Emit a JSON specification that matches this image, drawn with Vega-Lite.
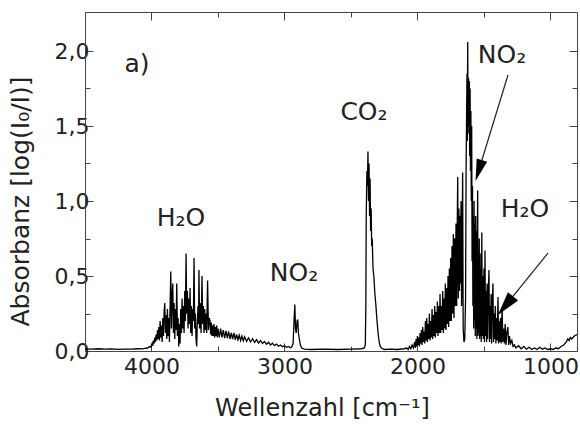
{
 "$schema": "https://vega.github.io/schema/vega-lite/v6.json",
 "width": 492, "height": 339,
 "autosize": {"type": "none"},
 "padding": {"left": 85, "top": 12, "right": 3, "bottom": 77},
 "background": "white",
 "config": {
  "view": {"stroke": null},
  "font": "DejaVu Sans",
  "axis": {"labelFont": "DejaVu Sans", "titleFont": "DejaVu Sans", "labelColor": "#222", "titleColor": "#222", "domainColor": "#444", "tickColor": "#444", "grid": false, "titleFontWeight": "normal", "labelFontSize": 22, "titleFontSize": 24}
 },
 "datasets": {
  "spectrum": [
   {"w":4500,"a":0.014},{"w":4450,"a":0.012},{"w":4400,"a":0.015},{"w":4350,"a":0.012},{"w":4300,"a":0.014},{"w":4250,"a":0.011},{"w":4200,"a":0.013},{"w":4150,"a":0.012},{"w":4100,"a":0.015},{"w":4070,"a":0.014},{"w":4050,"a":0.018},{"w":4030,"a":0.02},
   {"w":4015,"a":0.03},{"w":4005,"a":0.025},{"w":3995,"a":0.05},{"w":3990,"a":0.035},{"w":3985,"a":0.07},{"w":3980,"a":0.05},{"w":3975,"a":0.09},{"w":3970,"a":0.06},{"w":3965,"a":0.11},{"w":3960,"a":0.07},{"w":3955,"a":0.14},{"w":3950,"a":0.08},{"w":3945,"a":0.16},{"w":3940,"a":0.07},{"w":3935,"a":0.2},{"w":3930,"a":0.09},{"w":3925,"a":0.17},{"w":3920,"a":0.06},{"w":3915,"a":0.22},{"w":3910,"a":0.1},{"w":3905,"a":0.26},{"w":3900,"a":0.32},{"w":3895,"a":0.12},{"w":3890,"a":0.24},{"w":3885,"a":0.08},{"w":3880,"a":0.28},{"w":3875,"a":0.1},{"w":3870,"a":0.22},{"w":3865,"a":0.06},{"w":3860,"a":0.3},{"w":3855,"a":0.53},{"w":3850,"a":0.15},{"w":3845,"a":0.38},{"w":3840,"a":0.45},{"w":3835,"a":0.12},{"w":3830,"a":0.32},{"w":3825,"a":0.08},{"w":3820,"a":0.28},{"w":3815,"a":0.14},{"w":3810,"a":0.45},{"w":3805,"a":0.1},{"w":3800,"a":0.22},{"w":3795,"a":0.03},{"w":3790,"a":0.18},{"w":3785,"a":0.05},{"w":3780,"a":0.28},{"w":3775,"a":0.12},{"w":3770,"a":0.35},{"w":3765,"a":0.15},{"w":3760,"a":0.3},{"w":3755,"a":0.12},{"w":3750,"a":0.4},{"w":3745,"a":0.2},{"w":3740,"a":0.65},{"w":3735,"a":0.25},{"w":3730,"a":0.4},{"w":3725,"a":0.15},{"w":3720,"a":0.35},{"w":3715,"a":0.18},{"w":3710,"a":0.42},{"w":3705,"a":0.12},{"w":3700,"a":0.3},{"w":3695,"a":0.1},{"w":3690,"a":0.28},{"w":3685,"a":0.2},{"w":3680,"a":0.62},{"w":3675,"a":0.15},{"w":3670,"a":0.25},{"w":3665,"a":0.08},{"w":3660,"a":0.03},{"w":3655,"a":0.2},{"w":3650,"a":0.3},{"w":3646,"a":0.18},{"w":3643,"a":0.54},{"w":3638,"a":0.15},{"w":3632,"a":0.32},{"w":3627,"a":0.12},{"w":3620,"a":0.5},{"w":3615,"a":0.18},{"w":3610,"a":0.3},{"w":3605,"a":0.12},{"w":3600,"a":0.28},{"w":3595,"a":0.14},{"w":3590,"a":0.25},{"w":3585,"a":0.12},{"w":3578,"a":0.47},{"w":3572,"a":0.14},{"w":3565,"a":0.22},
   {"w":3560,"a":0.2},{"w":3555,"a":0.11},{"w":3550,"a":0.19},{"w":3545,"a":0.1},{"w":3540,"a":0.17},{"w":3535,"a":0.1},{"w":3530,"a":0.18},{"w":3525,"a":0.09},{"w":3520,"a":0.16},{"w":3515,"a":0.1},{"w":3510,"a":0.17},{"w":3505,"a":0.09},{"w":3500,"a":0.15},{"w":3490,"a":0.09},{"w":3480,"a":0.15},{"w":3470,"a":0.09},{"w":3460,"a":0.14},{"w":3450,"a":0.085},{"w":3440,"a":0.135},{"w":3430,"a":0.085},{"w":3420,"a":0.13},{"w":3410,"a":0.08},{"w":3400,"a":0.12},{"w":3390,"a":0.08},{"w":3380,"a":0.12},{"w":3370,"a":0.075},{"w":3360,"a":0.11},{"w":3350,"a":0.075},{"w":3340,"a":0.105},{"w":3330,"a":0.07},{"w":3320,"a":0.1},{"w":3310,"a":0.068},{"w":3300,"a":0.095},{"w":3285,"a":0.065},{"w":3270,"a":0.088},{"w":3255,"a":0.06},{"w":3240,"a":0.082},{"w":3225,"a":0.058},{"w":3210,"a":0.075},{"w":3195,"a":0.053},{"w":3180,"a":0.07},{"w":3165,"a":0.05},{"w":3150,"a":0.064},{"w":3135,"a":0.045},{"w":3120,"a":0.058},{"w":3105,"a":0.04},{"w":3090,"a":0.052},{"w":3075,"a":0.036},{"w":3060,"a":0.046},{"w":3045,"a":0.032},{"w":3030,"a":0.04},{"w":3015,"a":0.028},{"w":3000,"a":0.035},{"w":2985,"a":0.025},{"w":2970,"a":0.03},{"w":2955,"a":0.022},{"w":2945,"a":0.028},
   {"w":2935,"a":0.05},{"w":2928,"a":0.2},{"w":2922,"a":0.31},{"w":2917,"a":0.15},{"w":2912,"a":0.12},{"w":2905,"a":0.2},{"w":2900,"a":0.21},{"w":2895,"a":0.12},{"w":2888,"a":0.08},{"w":2880,"a":0.04},{"w":2870,"a":0.02},{"w":2850,"a":0.012},{"w":2800,"a":0.01},{"w":2700,"a":0.012},{"w":2600,"a":0.01},{"w":2500,"a":0.012},{"w":2420,"a":0.015},{"w":2400,"a":0.02},
   {"w":2392,"a":0.04},{"w":2388,"a":0.3},{"w":2385,"a":0.9},{"w":2380,"a":1.2},{"w":2376,"a":1.1},{"w":2372,"a":1.33},{"w":2368,"a":1.0},{"w":2364,"a":1.25},{"w":2360,"a":0.9},{"w":2356,"a":1.15},{"w":2352,"a":0.8},{"w":2348,"a":0.95},{"w":2344,"a":0.7},{"w":2340,"a":0.75},{"w":2334,"a":0.55},{"w":2328,"a":0.5},{"w":2320,"a":0.38},{"w":2312,"a":0.3},{"w":2304,"a":0.2},{"w":2296,"a":0.12},{"w":2288,"a":0.06},{"w":2280,"a":0.03},{"w":2270,"a":0.02},{"w":2250,"a":0.01},{"w":2200,"a":0.012},{"w":2150,"a":0.01},{"w":2100,"a":0.015},
   {"w":2080,"a":0.02},{"w":2070,"a":0.01},{"w":2060,"a":0.03},{"w":2050,"a":0.015},{"w":2040,"a":0.04},{"w":2030,"a":0.02},{"w":2020,"a":0.06},{"w":2015,"a":0.02},{"w":2010,"a":0.08},{"w":2005,"a":0.03},{"w":2000,"a":0.1},{"w":1995,"a":0.04},{"w":1990,"a":0.09},{"w":1985,"a":0.03},{"w":1980,"a":0.12},{"w":1975,"a":0.05},{"w":1970,"a":0.14},{"w":1965,"a":0.04},{"w":1960,"a":0.16},{"w":1955,"a":0.06},{"w":1950,"a":0.13},{"w":1945,"a":0.05},{"w":1940,"a":0.2},{"w":1935,"a":0.07},{"w":1930,"a":0.22},{"w":1925,"a":0.06},{"w":1920,"a":0.18},{"w":1915,"a":0.08},{"w":1910,"a":0.25},{"w":1905,"a":0.07},{"w":1900,"a":0.2},{"w":1895,"a":0.09},{"w":1890,"a":0.28},{"w":1885,"a":0.08},{"w":1880,"a":0.24},{"w":1875,"a":0.1},{"w":1870,"a":0.3},{"w":1865,"a":0.09},{"w":1860,"a":0.26},{"w":1855,"a":0.12},{"w":1850,"a":0.33},{"w":1845,"a":0.1},{"w":1840,"a":0.3},{"w":1835,"a":0.12},{"w":1830,"a":0.38},{"w":1825,"a":0.12},{"w":1820,"a":0.3},{"w":1815,"a":0.14},{"w":1810,"a":0.4},{"w":1805,"a":0.12},{"w":1800,"a":0.35},{"w":1795,"a":0.15},{"w":1790,"a":0.45},{"w":1785,"a":0.14},{"w":1780,"a":0.42},{"w":1775,"a":0.18},{"w":1770,"a":0.5},{"w":1765,"a":0.16},{"w":1760,"a":0.55},{"w":1755,"a":0.2},{"w":1750,"a":0.62},{"w":1745,"a":0.2},{"w":1740,"a":0.7},{"w":1735,"a":0.25},{"w":1730,"a":0.78},{"w":1725,"a":0.22},{"w":1720,"a":0.75},{"w":1715,"a":0.3},{"w":1710,"a":0.85},{"w":1705,"a":0.3},{"w":1700,"a":0.9},{"w":1697,"a":1.16},{"w":1693,"a":0.35},{"w":1688,"a":0.95},{"w":1684,"a":0.4},{"w":1680,"a":0.9},{"w":1676,"a":0.45},{"w":1672,"a":1.0},{"w":1668,"a":0.3},{"w":1664,"a":0.7},{"w":1660,"a":1.19},{"w":1656,"a":0.15},{"w":1650,"a":0.06},{"w":1644,"a":0.08},
   {"w":1638,"a":0.35},{"w":1634,"a":1.2},{"w":1630,"a":1.6},{"w":1627,"a":1.85},{"w":1625,"a":1.4},{"w":1622,"a":2.06},{"w":1619,"a":1.5},{"w":1616,"a":1.82},{"w":1613,"a":1.45},{"w":1610,"a":1.8},{"w":1607,"a":1.3},{"w":1604,"a":1.75},{"w":1601,"a":1.2},{"w":1598,"a":1.6},{"w":1595,"a":1.0},{"w":1592,"a":1.5},{"w":1589,"a":0.6},
   {"w":1586,"a":1.1},{"w":1583,"a":0.3},{"w":1580,"a":0.9},{"w":1577,"a":0.15},{"w":1574,"a":1.0},{"w":1571,"a":0.2},{"w":1568,"a":0.85},{"w":1565,"a":0.1},{"w":1562,"a":0.9},{"w":1559,"a":0.15},{"w":1556,"a":0.8},{"w":1553,"a":0.08},{"w":1550,"a":0.7},{"w":1547,"a":1.07},{"w":1544,"a":0.1},{"w":1541,"a":0.6},{"w":1538,"a":0.12},{"w":1535,"a":0.75},{"w":1532,"a":0.08},{"w":1529,"a":0.55},{"w":1526,"a":0.1},{"w":1523,"a":0.65},{"w":1520,"a":0.06},{"w":1516,"a":0.79},{"w":1512,"a":0.1},{"w":1508,"a":0.5},{"w":1504,"a":0.08},{"w":1500,"a":0.55},{"w":1496,"a":0.06},{"w":1492,"a":0.67},{"w":1488,"a":0.1},{"w":1484,"a":0.4},{"w":1480,"a":0.06},{"w":1476,"a":0.45},{"w":1472,"a":0.08},{"w":1468,"a":0.35},{"w":1462,"a":0.54},{"w":1458,"a":0.06},{"w":1454,"a":0.3},{"w":1450,"a":0.08},{"w":1446,"a":0.38},{"w":1442,"a":0.05},{"w":1438,"a":0.3},{"w":1432,"a":0.45},{"w":1428,"a":0.06},{"w":1424,"a":0.25},{"w":1420,"a":0.08},{"w":1414,"a":0.3},{"w":1410,"a":0.05},{"w":1405,"a":0.22},{"w":1400,"a":0.07},{"w":1394,"a":0.36},{"w":1390,"a":0.05},{"w":1385,"a":0.2},{"w":1380,"a":0.06},{"w":1375,"a":0.22},{"w":1370,"a":0.05},{"w":1363,"a":0.29},{"w":1358,"a":0.06},{"w":1352,"a":0.15},{"w":1346,"a":0.05},{"w":1340,"a":0.18},{"w":1334,"a":0.04},{"w":1328,"a":0.12},{"w":1320,"a":0.16},{"w":1314,"a":0.04},{"w":1308,"a":0.1},{"w":1300,"a":0.05},{"w":1290,"a":0.07},{"w":1281,"a":0.03},{"w":1270,"a":0.04},{"w":1260,"a":0.02},
   {"w":1240,"a":0.035},{"w":1220,"a":0.015},{"w":1200,"a":0.03},{"w":1180,"a":0.012},{"w":1160,"a":0.025},{"w":1140,"a":0.01},{"w":1120,"a":0.02},{"w":1100,"a":0.01},{"w":1080,"a":0.025},{"w":1060,"a":0.012},{"w":1040,"a":0.02},{"w":1020,"a":0.01},{"w":1000,"a":0.015},{"w":980,"a":0.01},{"w":960,"a":0.02},{"w":940,"a":0.015},{"w":920,"a":0.03},{"w":900,"a":0.04},{"w":880,"a":0.06},{"w":870,"a":0.08},{"w":860,"a":0.07},{"w":850,"a":0.09},{"w":840,"a":0.08},{"w":820,"a":0.1},{"w":800,"a":0.11}
  ],
  "labels": [
   {"t":"a)","w":4109,"a":1.86},
   {"t":"H₂O","w":3778,"a":0.833},
   {"t":"NO₂","w":2928,"a":0.467},
   {"t":"CO₂","w":2402,"a":1.54},
   {"t":"NO₂","w":1364,"a":1.92},
   {"t":"H₂O","w":1191,"a":0.893}
  ],
  "arrows": [
   {"name":"NO2","w1":1319,"a1":1.84,"w2":1539,"a2":1.203},
   {"name":"H2O","w1":1018,"a1":0.653,"w2":1338,"a2":0.302}
  ]
 },
 "resolve": {"axis": {"x": "independent", "y": "independent"}},
 "layer": [
  {
   "data": {"name": "spectrum"},
   "mark": {"type": "line", "color": "black", "strokeWidth": 1.3, "clip": true},
   "encoding": {
    "x": {"field": "w", "type": "quantitative", "scale": {"domain": [800, 4500], "reverse": true, "nice": false, "zero": false},
     "axis": {"orient": "bottom", "values": [1000, 2000, 3000, 4000], "format": "d", "tickSize": -8, "labelPadding": 13, "title": "Wellenzahl [cm⁻¹]", "titlePadding": 19, "titleX": 237}},
    "y": {"field": "a", "type": "quantitative", "scale": {"domain": [0, 2.26], "nice": false, "zero": true},
     "axis": {"orient": "left", "values": [0, 0.5, 1, 1.5, 2], "tickSize": -8, "labelPadding": 4, "labelExpr": "replace(format(datum.value, '.1f'), '.', ',')", "title": "Absorbanz [log(I₀/I)]", "titleFontSize": 25, "titlePadding": 21, "titleY": 189}}
   }
  },
  {
   "data": {"name": "labels"},
   "mark": {"type": "text", "fontSize": 25, "font": "DejaVu Sans", "align": "center", "baseline": "alphabetic", "color": "#222"},
   "encoding": {
    "x": {"field": "w", "type": "quantitative", "scale": {"domain": [800, 4500], "reverse": true, "nice": false, "zero": false},
     "axis": {"orient": "bottom", "values": [1500, 2500, 3500], "tickSize": -5, "labels": false, "domain": false, "title": null}},
    "y": {"field": "a", "type": "quantitative", "scale": {"domain": [0, 2.26], "nice": false},
     "axis": {"orient": "left", "values": [0.25, 0.75, 1.25, 1.75], "tickSize": -5, "labels": false, "domain": false, "title": null}},
    "text": {"field": "t"}
   }
  },
  {
   "data": {"name": "arrows"},
   "mark": {"type": "rule", "color": "#222", "strokeWidth": 1.2},
   "encoding": {
    "x": {"field": "w1", "type": "quantitative", "scale": {"domain": [800, 4500], "reverse": true, "nice": false, "zero": false},
     "axis": {"orient": "top", "values": [1000, 2000, 3000, 4000], "tickSize": -8, "labels": false, "title": null}},
    "x2": {"field": "w2"},
    "y": {"field": "a1", "type": "quantitative", "scale": {"domain": [0, 2.26], "nice": false},
     "axis": {"orient": "right", "values": [0, 0.5, 1, 1.5, 2], "tickSize": -8, "labels": false, "title": null}},
    "y2": {"field": "a2"}
   }
  },
  {
   "data": {"name": "arrows"},
   "transform": [{"filter": "datum.name == 'NO2'"}],
   "mark": {"type": "point", "shape": "M0,-1L0.5,1L-0.5,1Z", "size": 484, "angle": 197, "filled": true, "color": "black", "opacity": 1},
   "encoding": {
    "x": {"field": "w2", "type": "quantitative", "scale": {"domain": [800, 4500], "reverse": true, "nice": false, "zero": false},
     "axis": {"orient": "top", "values": [1500, 2500, 3500], "tickSize": -5, "labels": false, "domain": false, "title": null}},
    "y": {"field": "a2", "type": "quantitative", "scale": {"domain": [0, 2.26], "nice": false},
     "axis": {"orient": "right", "values": [0.25, 0.75, 1.25, 1.75], "tickSize": -5, "labels": false, "domain": false, "title": null}}
   }
  },
  {
   "data": {"name": "arrows"},
   "transform": [{"filter": "datum.name == 'H2O'"}],
   "mark": {"type": "point", "shape": "M0,-1L0.55,1L-0.55,1Z", "size": 576, "angle": 219, "filled": true, "color": "black", "opacity": 1},
   "encoding": {
    "x": {"field": "w2", "type": "quantitative", "scale": {"domain": [800, 4500], "reverse": true, "nice": false, "zero": false}, "axis": null},
    "y": {"field": "a2", "type": "quantitative", "scale": {"domain": [0, 2.26], "nice": false}, "axis": null}
   }
  }
 ]
}
